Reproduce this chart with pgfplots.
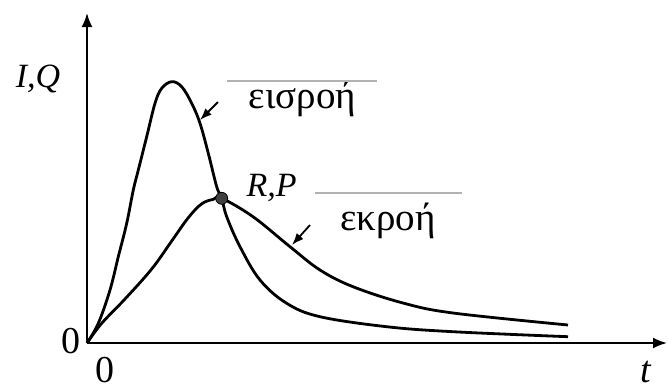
\documentclass[border=0pt]{standalone}
\usepackage{fontspec}
\setmainfont{Liberation Serif}
\usepackage{pgfplots}
\pgfplotsset{compat=1.18}
\usetikzlibrary{arrows.meta}

% inflow hydrograph I(t)
\pgfplotstableread{
x y
0 0
11.3 19.7
23 53
31.3 86.3
39.7 119.7
46.3 153
51.3 173
59.7 206.3
68 239.7
74.7 254.7
84.7 261.3
94.7 256.3
104.7 239.7
113 219.7
121.3 189.7
129.7 156.3
134.7 144.7
139.7 126.3
153 96.3
173 63
199.7 39.7
233 26.3
299.7 16.3
366 11.3
481 6.3
}\inflow

% outflow hydrograph Q(t)
\pgfplotstableread{
x y
0 0
14.7 19.7
38 44
64.7 74
84.7 102
101.3 125.3
114.7 139.2
126.3 143.7
134.7 144.7
166 126.3
203 96.3
233 73
266 56.3
316 40
366 30
481 18
}\outflow

\begin{document}
\begin{tikzpicture}
\begin{axis}[
  x=0.5pt, y=0.5pt,
  xmin=0, xmax=580, ymin=0, ymax=330,
  hide axis, clip=false,
]
  \coordinate (bl) at (axis cs:-87,-45);
  \coordinate (tr) at (axis cs:581,343);

  % axes
  \draw[line width=1pt, -{Latex[length=7pt,width=5.5pt]}] (axis cs:0,0) -- (axis cs:580,0);
  \draw[line width=1pt, -{Latex[length=7pt,width=5.5pt]}] (axis cs:0,0) -- (axis cs:0,330);

  \addplot[line width=1.4pt, smooth, tension=0.6] table {\inflow};
  \addplot[line width=1.4pt, smooth, tension=0.6] table {\outflow};

  % intersection R,P
  \addplot[only marks, mark=*, mark size=3pt, mark options={fill=black!75, draw=black}]
    coordinates {(134.7,144.7)};

  % labels
  \node[font=\fontsize{17}{20}\selectfont\itshape, anchor=base] at (axis cs:-49,256) {I,Q};
  \node[font=\fontsize{17}{20}\selectfont\itshape, anchor=base] at (axis cs:184.7,146.3) {R,P};
  \node[font=\fontsize{19.5}{22}\selectfont, anchor=base] at (axis cs:215.5,234.7) {εισροή};
  \node[font=\fontsize{19.5}{22}\selectfont, anchor=base] at (axis cs:301,113) {εκροή};
  \node[font=\fontsize{19}{22}\selectfont, anchor=base] at (axis cs:-16,-10) {0};
  \node[font=\fontsize{19}{22}\selectfont, anchor=base, inner sep=0pt] at (axis cs:18.5,-39) {0};
  \node[font=\fontsize{19}{22}\selectfont\itshape, anchor=base, inner sep=0pt] at (axis cs:559,-39) {t};

  % rules above the labels
  \draw[black!30, line width=0.7pt] (axis cs:140,262) -- (axis cs:290,262);
  \draw[black!30, line width=0.7pt] (axis cs:228,150) -- (axis cs:375,150);

  % pointers to the curves
  \draw[line width=0.9pt, -{Latex[length=6pt,width=4.5pt]}] (axis cs:131,241) -- (axis cs:113,223);
  \draw[line width=0.9pt, -{Latex[length=6pt,width=4.5pt]}] (axis cs:223,118) -- (axis cs:205,98);
\end{axis}
\pgfresetboundingbox
\path (bl) rectangle (tr);
\end{tikzpicture}
\end{document}
